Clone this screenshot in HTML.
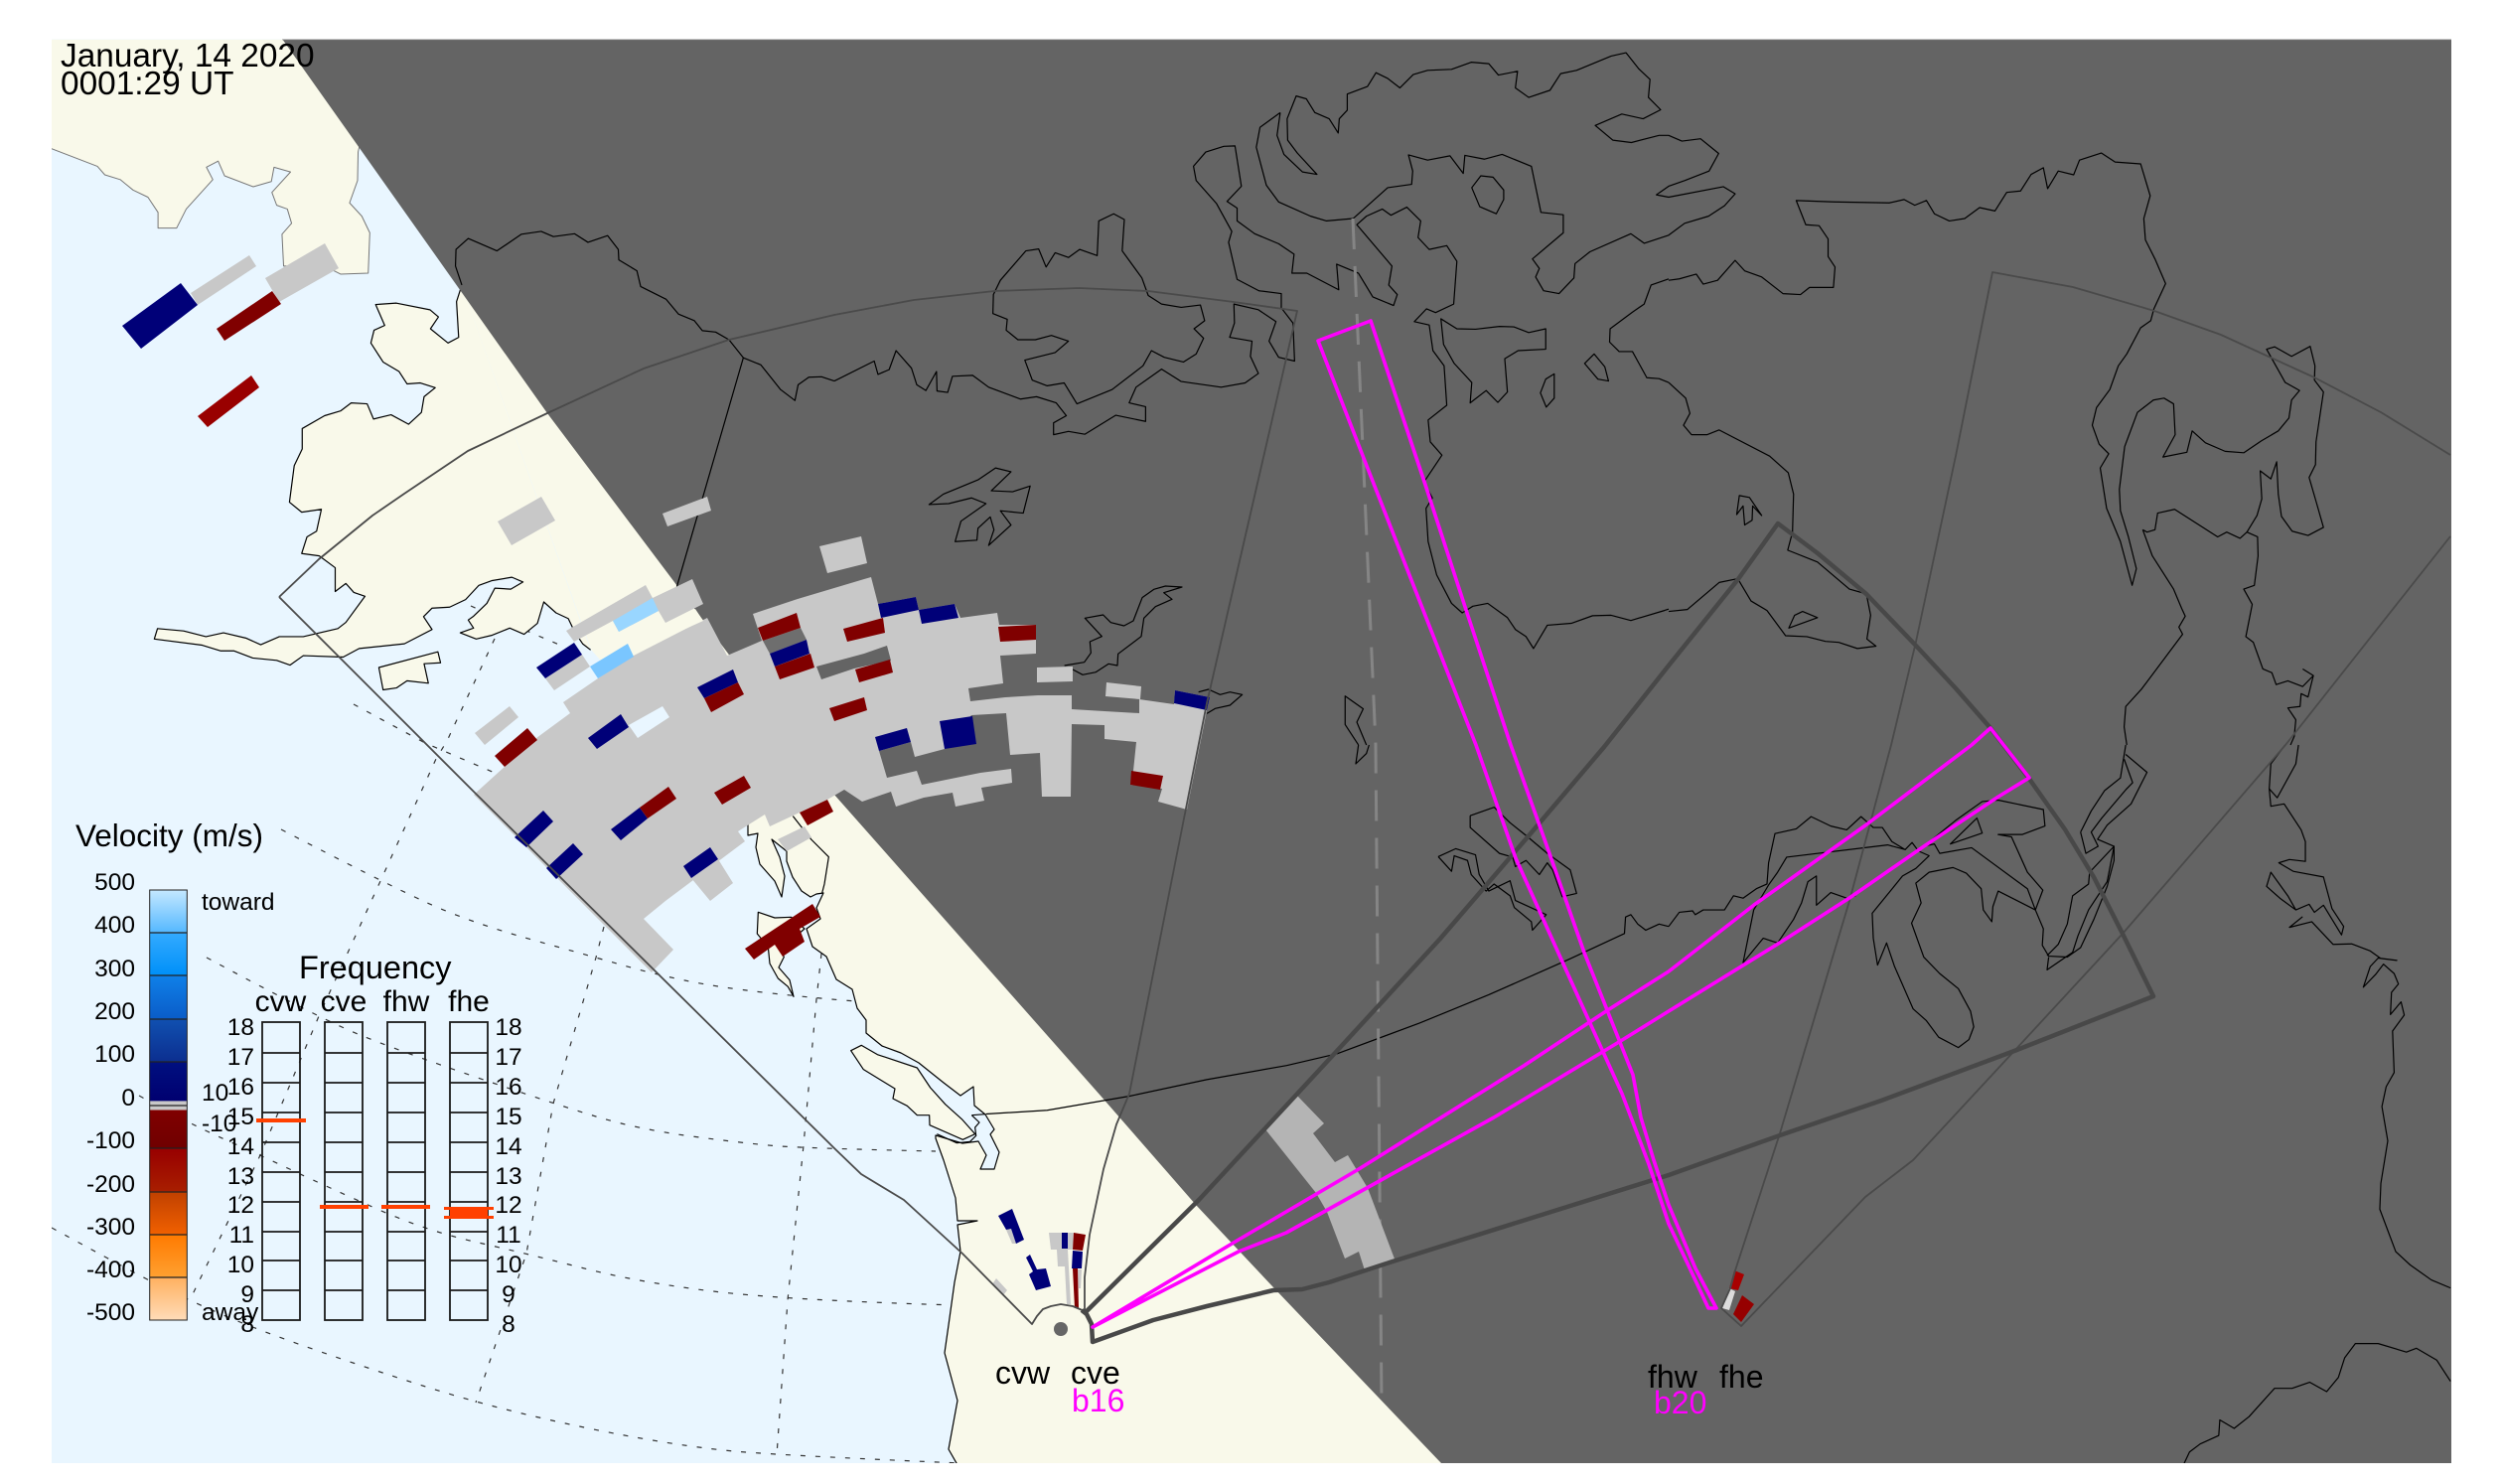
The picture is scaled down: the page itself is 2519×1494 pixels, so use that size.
<!DOCTYPE html>
<html><head><meta charset="utf-8"><style>
html,body{margin:0;padding:0;background:#fff}
svg{display:block}
polyline,polygon,path{vector-effect:non-scaling-stroke;stroke-linejoin:round}
.k polyline,.k polygon{fill:none;stroke:#000;stroke-width:1.2}
.g polygon{fill:#c8c8c8}.n polygon{fill:#000078}.m polygon{fill:#800000}
text{font-family:"Liberation Sans",sans-serif;fill:#000}
</style></head><body>
<svg width="2519" height="1494" viewBox="0 0 2519 1494" xmlns="http://www.w3.org/2000/svg">
<defs>
<clipPath id="f"><rect x="52" y="39.5" width="2416" height="1433.5"/></clipPath>
<linearGradient id="cb" x1="0" y1="0" x2="0" y2="1">
<stop offset="0" stop-color="#c4e8ff"/><stop offset=".099" stop-color="#55b8ff"/><stop offset=".1" stop-color="#33aaff"/><stop offset=".198" stop-color="#0090f8"/><stop offset=".2" stop-color="#0f80e8"/><stop offset=".3" stop-color="#0a5cc8"/><stop offset=".301" stop-color="#1050b0"/><stop offset=".398" stop-color="#0c2f90"/><stop offset=".4" stop-color="#001080"/><stop offset=".49" stop-color="#000070"/><stop offset=".491" stop-color="#c8c8c8"/><stop offset=".511" stop-color="#c8c8c8"/><stop offset=".512" stop-color="#800000"/><stop offset=".6" stop-color="#700000"/><stop offset=".602" stop-color="#980000"/><stop offset=".7" stop-color="#a81e00"/><stop offset=".701" stop-color="#c04000"/><stop offset=".8" stop-color="#f06000"/><stop offset=".801" stop-color="#ff7a00"/><stop offset=".9" stop-color="#ffa030"/><stop offset=".901" stop-color="#ffb060"/><stop offset="1" stop-color="#ffdcb8"/>
</linearGradient>
</defs>
<rect width="2519" height="1494" fill="#fff"/>
<g clip-path="url(#f)">
<rect x="52" y="39" width="2416" height="1434" fill="#e9f6ff"/>
<!-- grid -->
<g fill="none" stroke="#333" stroke-width="1.2" stroke-dasharray="5 10">
<path d="M283 835Q383 887 427 907.5Q471 928 535.5 946Q600 964 628 972Q656 980 689.5 987Q723 994 772.5 999.5Q822 1005 862 1008"/>
<path d="M208 964Q321 1025 361.5 1041.5Q402 1058 479.5 1084.5Q557 1111 600 1124Q643 1137 696.5 1144Q750 1151 779.5 1153.5Q809 1156 942 1159"/>
<path d="M140 1103Q188 1130 225 1146.5Q262 1163 297 1179.5Q332 1196 380.5 1217.5Q429 1239 479.5 1250.5Q530 1262 586.5 1276.5Q643 1291 718 1300Q793 1309 963 1314"/>
<path d="M52 1236Q134 1281 161 1294.5Q188 1308 222.5 1323Q257 1338 316 1358.5Q375 1379 427 1395.5Q479 1412 534 1425Q589 1438 642.5 1447.5Q696 1457 739 1461Q782 1465 967 1473"/>
<polyline points="498,643 450,746 439,764 383,887 321,1023 262,1163 193,1305"/>
<polyline points="608,933 600,964 557,1111 530,1262 479,1412"/>
<polyline points="827,960 822,1006 809,1153 793,1309 782,1465"/>
<polyline points="356,709 428,748 498,778"/>
<polyline points="474,610 537,638 570,652"/>
</g>
<!-- land -->
<g fill="#f9f9ea" stroke="#000" stroke-width="1.2">
<polygon stroke="none" points="465,287 595,654 753,830 1500,830 1500,287"/>
<g transform="scale(.5357,.4783)">
<polyline stroke="#777" stroke-width="1" points="90,83 90,313 97,313 183,350 197,368 226,378 250,400 278,415 297,447 297,480 332,480 350,440 400,378 388,352 410,339 422,370 476,393 510,382 515,352 546,362 511,405 520,432 540,440 548,470 530,493 533,560 610,560 640,577 692,575 695,490 680,455 657,427 672,380 673,320 720,83"/>
<polyline points="868,600 858,635 862,710 842,722 809,692 824,667 808,652 745,638 706,641 723,685 703,695 697,722 720,762 750,782 765,808 790,806 818,816 797,835 792,868 768,893 735,873 702,882 690,850 660,848 640,865 610,875 568,902 568,945 553,980 544,1057 567,1078 604,1072 595,1118 577,1130 567,1165 600,1170 630,1195 630,1245 650,1228 665,1247 686,1255 650,1310 635,1323 570,1340 525,1340 490,1357 462,1343 420,1332 387,1340 345,1328 296,1323 290,1345 380,1358 415,1370 440,1370 475,1385 520,1390 545,1400 570,1380 645,1383 675,1365 760,1355 812,1325 796,1298 812,1280 845,1278 875,1262 900,1232 925,1222 962,1215 983,1225 960,1240 930,1238 915,1270 890,1297 880,1305 890,1322 865,1332 895,1345 925,1337 958,1322 985,1335 1010,1312 1022,1267 1045,1290 1068,1302 1080,1330 1095,1355 1110,1368"/>
<polygon points="712,1405 823,1372 828,1395 797,1397 805,1438 765,1433 745,1448 720,1452"/>
</g>
<polyline points="753,830 753,841 763,839 761,853 765,870 780,887 787,903 790,882 785,863 777,845 792,857 792,867 798,883 807,897 816,903 822,900 829,899 822,914 826,925 812,935 818,953 832,963 842,986 858,996 863,1015 872,1027 872,1040 888,1053 907,1060 925,1070 950,1090 967,1103 980,1094 981,1113 992,1122 1001,1137 997,1142 1006,1160 1001,1177 987,1177 993,1163 985,1149 969,1151 942,1143 942,1146 950,1168 962,1206 964,1229 984,1229 964,1233 967,1260 961,1291 955,1334 951,1362 964,1410 955,1459 967,1480 1500,1480 1500,830"/>
<g transform="translate(730,820) scale(.33333)">
<polygon points="100,295 97,360 130,400 135,450 160,495 190,520 207,550 195,500 162,462 178,430 165,410 240,345 200,310 150,312"/>
<polygon points="380,713 412,697 460,725 580,765 620,825 665,875 715,920 755,965 718,982 618,938 617,908 580,908 550,880 507,858 513,828 418,770"/>
<polyline fill="none" points="205,5 260,75 313,128 300,210 293,237"/>
<polyline fill="none" points="745,908 768,930 755,945 758,970 740,988 700,992 640,965"/>
<polyline fill="none" points="745,908 785,905"/>
</g>
</g>
<!-- terminator -->
<polygon fill="#646464" points="284,39 551,416 840,800 1108,1103 1204,1213 1282,1296 1451,1473 2468,1473 2468,39"/>
<line x1="284" y1="39.8" x2="2468" y2="39.8" stroke="#8a8a8a" stroke-width="1"/>
<!-- coasts on dark -->
<g class="k">
<g transform="scale(.5357,.4783)">
<polyline points="868,600 856,560 857,525 880,502 934,528 980,493 1017,487 1040,498 1080,492 1105,510 1142,496 1162,525 1163,547 1197,570 1204,603 1252,630 1275,661 1305,675 1320,696 1345,699 1370,715 1397,753 1430,768 1467,820 1494,843 1500,810 1520,794 1544,793 1568,802"/>
<polyline points="1397,753 1272,1235"/>
</g>
<g transform="translate(840,0) scale(.5357,.4783)">
<polyline points="0,802 75,760 82,788 103,778 116,738 145,775 155,810 172,822 192,782 193,823 213,826 222,792 260,790 290,815 350,840 380,835 417,848 436,875 412,890 412,915 440,908 471,914 529,874 585,887 585,856 554,848 567,815 615,777 652,803 727,815 772,806 797,786 782,750 785,718 743,710 752,680 751,640 797,652 830,677 817,718 835,752 865,760 862,680 840,648 840,618 798,612 757,588 741,510 747,487 718,428 680,380 675,350 698,320 732,308 753,307 765,392 738,424 757,438 757,465 790,492 835,513 864,535 860,575 888,575 948,610 944,556 985,575 1012,625 1051,643 1058,620 1042,600 1048,560 982,473 1000,455 1030,440 1046,453 1076,436 1102,465 1097,500 1118,525 1151,517 1170,550 1164,640 1130,658 1113,650 1090,677 1118,684 1125,738 1146,770 1151,853 1116,884 1120,930 1142,958 1108,1015 1124,1048 1112,1070 1116,1140 1132,1210 1160,1270 1180,1290 1200,1276 1228,1270 1265,1300 1280,1325 1300,1340 1314,1365 1340,1316 1385,1312 1425,1296 1460,1295 1497,1306 1560,1285 1568,1282"/>
<polygon points="312,590 360,528 384,524 398,562 415,532 440,542 461,525 494,538 497,465 525,450 545,462 541,528 578,585 590,622 615,640 652,647 688,642 696,675 676,692 694,712 680,745 656,762 620,752 596,738 580,770 522,820 456,850 432,806 400,812 372,800 358,758 415,742 440,718 408,706 378,715 345,715 323,695 325,672 298,660 299,620"/>
<polyline points="838,237 800,268 793,310 812,390 835,425 895,455 925,465 975,460 1040,395 1085,388 1087,360 1079,326 1115,337 1157,328 1182,365 1185,327 1222,335 1255,325 1310,350 1328,447 1370,452 1370,490 1312,545 1325,565 1318,583 1333,612 1362,618 1390,585 1392,555 1420,530 1497,492 1522,512 1568,495 1598,470 1643,455 1673,433 1693,408 1671,393 1568,415 1545,410 1568,392 1598,380 1644,360 1662,323 1628,292 1593,297 1568,285 1550,285 1498,300 1463,295 1430,264 1480,240 1520,250 1553,231 1530,205 1533,167 1512,145 1488,111 1460,118 1395,148 1365,155 1345,190 1305,205 1280,185 1284,150 1248,158 1230,134 1197,131 1160,146 1115,148 1088,157 1063,185 1040,165 1018,153 1002,182 964,198 964,232 949,250 947,280 930,250 903,237 887,208 868,202 851,250 852,295 870,322 907,367 880,362 845,325 832,285 838,237"/>
<polygon points="1198,395 1215,370 1238,373 1258,400 1258,420 1244,450 1213,435"/>
<polygon points="1410,765 1428,745 1448,772 1455,802 1435,798"/>
<polygon points="1327,827 1337,798 1353,787 1353,838 1338,857"/>
<polygon points="1140,671 1170,692 1205,693 1250,687 1277,688 1305,700 1337,692 1337,735 1285,738 1260,755 1265,825 1247,847 1225,822 1195,848 1198,805 1165,765 1145,725"/>
<polyline points="1568,587 1535,600 1522,640 1500,657 1458,692 1457,720 1475,740 1500,740 1527,795 1550,797 1568,805"/>
<polygon points="178,1062 205,1040 270,1010 303,985 332,993 295,1033 335,1035 368,1023 355,1080 312,1075 332,1105 290,1148 300,1115 293,1088 270,1112 268,1137 227,1140 238,1097 285,1060 258,1048 215,1060"/>
<polyline points="985,1568 960,1525 960,1465 994,1492 982,1520 1000,1568"/>
</g>
<g transform="translate(1680,0) scale(.5351,.4783)">
<polyline points="0,590 20,587 52,577 65,598 92,590 125,548 143,570 175,583 215,618 248,620 265,605 310,605 313,562 300,540 300,503 283,475 258,473 240,422 310,425 415,427 443,420 463,432 485,422 500,450 528,465 557,460 585,437 614,444 636,405 662,402 682,367 705,353 713,397 733,360 762,368 773,337 814,322 840,341 888,345 906,412 894,460 897,505 915,545 935,597 913,650 907,675 888,690 862,745 846,770 830,820 805,858 797,895 810,935 828,955 812,985 824,1070 850,1140 872,1232 880,1197 865,1130 850,1075 848,1030 858,940 882,868 912,842 932,838 950,850 953,915 930,962 975,952 985,907 1010,932 1047,950 1082,953 1115,928 1147,907 1167,880 1172,842 1187,822 1160,805 1125,735 1140,730 1172,750 1207,729 1216,770 1215,800 1232,825 1218,930 1217,978 1205,1005 1218,1055 1232,1110 1203,1127 1173,1118 1153,1087 1147,1040 1144,972 1133,1008 1113,991 1116,1050 1107,1085 1088,1120 1108,1130 1109,1170 1102,1232 1082,1240 1098,1272 1086,1340 1100,1352 1118,1408 1135,1416 1143,1441 1165,1433 1193,1445 1213,1422 1193,1408"/>
<polyline points="1213,1422 1203,1467 1190,1460 1188,1487 1165,1490 1180,1515 1177,1550 1170,1568"/>
<polyline points="0,805 32,838 40,870 28,895 43,915 72,915 95,905 190,960 225,995 235,1040 233,1120 224,1158 280,1183 340,1240 372,1250 380,1295 373,1345 390,1360 355,1365 320,1352 295,1350 260,1340 220,1338 185,1285 155,1265 130,1218 95,1226 35,1283 0,1287"/>
<polyline points="892,1115 900,1120 915,1115 920,1080 952,1072 1033,1130 1050,1120 1075,1133 1088,1120"/>
<polyline points="892,1115 910,1170 930,1205 950,1240 965,1280 972,1297 960,1320 967,1335 890,1450 860,1487 857,1530 862,1568"/>
<polygon points="133,1043 152,1047 175,1085 158,1065 157,1095 143,1105 140,1065 128,1083"/>
<polygon points="226,1322 237,1295 252,1287 280,1300"/>
</g>
<g transform="translate(840,750) scale(.5357,.4745)">
<polyline points="285,783 400,775 555,745 700,710 850,680 945,655 1100,590 1230,530 1380,455 1485,400 1487,365 1497,360 1510,380 1525,393 1550,380 1568,385"/>
<polyline points="1135,237 1168,220 1205,233 1212,275 1230,310 1270,288 1280,330 1338,360 1312,393 1310,375 1278,345 1270,320 1240,295 1225,310 1197,275 1190,245 1165,235 1160,268 1135,237"/>
<polyline points="1195,150 1195,175 1250,230 1275,238 1280,258 1300,245 1325,275 1340,250 1350,265 1368,322 1395,315 1383,265 1340,230 1300,192 1270,165 1240,132 1195,150"/>
<polyline points="1005,0 1000,18 980,40 985,0"/>
</g>
<g transform="translate(1680,750) scale(.5351,.4745)">
<polyline points="1185,0 1180,40 1145,112 1130,93 1133,40 1160,0"/>
<polyline points="1130,93 1133,130 1158,125 1190,180 1198,205 1198,247 1168,243 1148,250 1175,268 1232,280 1248,347 1270,385 1266,403 1232,340 1215,355 1205,338 1180,350 1150,325 1125,300 1133,270 1165,320 1180,350"/>
<polyline points="1168,387 1192,365 1168,387 1210,375 1250,423 1285,422 1320,437 1340,453 1370,457 1335,452 1320,470 1307,514 1330,487 1345,465 1365,485 1373,507 1360,525 1358,572 1378,545 1384,573 1362,607 1365,695 1350,725 1342,767 1353,840 1340,930 1338,985 1368,1075 1395,1103 1435,1135 1471,1152"/>
<polyline points="1471,1350 1445,1305 1407,1280 1388,1288 1335,1270 1292,1270 1272,1300 1260,1342 1238,1372 1206,1352 1173,1365 1140,1365 1092,1425 1064,1450 1037,1432 1035,1465 1000,1483 980,1500 970,1524"/>
<polyline points="0,385 20,355 45,352 50,360 65,350 105,350 122,320 140,325 165,305 185,295 188,250 200,188 240,178 268,152 305,172 335,180 362,152 385,175 402,175 420,205 445,222 412,212 222,238 205,270 188,297 160,350 140,462 178,410 205,420 235,370 250,335 262,290 278,278 278,340 305,313 335,325 352,320"/>
<polyline points="445,222 458,207 470,225 490,235 465,262 440,278 383,357 385,410 393,467 410,420 425,470 460,560 485,585 508,620 545,642 565,625 574,598 568,565 545,517 510,485 480,450 457,378 475,335 465,293 490,270 535,260 560,272 588,305 592,350 608,375 610,343 620,310 690,350 705,390 703,425 715,448 750,450 775,430 800,370 825,300 838,245 838,215 792,270 790,295 760,320 750,380 733,423 712,447"/>
<polyline points="480,215 500,210 510,230 570,218 675,305 690,350 704,308 675,270 645,195 620,190 665,190 708,172 705,137 620,117 590,120 540,160 480,215"/>
<polygon points="530,210 580,155 590,187"/>
<polyline points="775,185 795,140 820,97 850,70 860,0"/>
<polyline points="860,20 900,58 870,125 825,170 807,200 838,215"/>
<polyline points="775,185 785,230 808,215 795,185 815,155 860,95 873,80 857,30"/>
<polyline points="838,215 825,290 790,350 770,405 760,440 712,477 715,450"/>
</g>
<g transform="translate(860,570) scale(.33333)">
<polyline points="635,300 695,290 715,262 712,228 748,212 697,157 752,147 775,170 815,180 843,165 870,95 905,70 940,60 990,63 935,80 960,100 910,122 875,157 867,212 797,265 795,300 768,295 730,320 690,328 660,312"/>
<polyline points="1040,380 1070,372 1105,388 1135,380 1172,388 1135,420 1090,430 1065,445"/>
</g>
</g>
<!-- dashed meridian -->
<polyline fill="none" stroke="#858585" stroke-width="3" stroke-dasharray="31 17" points="1362,220 1385,750 1391,1414"/>
<!-- scatter -->
<g class="g">
<polygon points="477,800 540,743 574,718 567,707 602,683 638,660 712,622 732,660 767,645 758,618 803,603 870,583 877,581 884,608 922,601 925,614 961,608 967,622 1004,617 1006,629 1043,629 1043,658 1007,660 1010,688 975,693 977,706 1012,702 1045,700 1079,700 1079,714 1112,716 1147,718 1147,704 1182,709 1183,695 1218,702 1215,715 1195,815 1166,807 1170,794 1138,790 1141,776 1144,747 1112,744 1112,730 1079,729 1078,802 1049,802 1047,758 1017,760 1013,718 978,720 951,754 921,762 917,747 885,756 893,783 923,776 928,790 987,778 1018,774 1019,788 988,793 991,806 962,812 959,798 930,803 902,812 897,797 868,807 850,795 833,805 805,818 775,832 770,820 743,837 750,847 670,907 648,925 678,956 656,979"/>
<polygon points="570,635 650,589 657,602 697,583 708,608 670,627 663,615 623,636 617,625 578,646"/>
<polygon points="549,683 586,659 594,671 558,695"/>
<polygon points="478,738 513,711 522,722 488,750"/>
<polygon points="825,550 867,540 873,567 833,577"/>
<polygon points="667,517 712,500 716,514 672,530"/>
<polygon points="501,525 545,500 559,524 515,549"/>
<polygon points="192,295 251,257 258,268 199,307"/>
<polygon points="267,280 327,245 341,270 281,304"/>
<polygon points="696,884 723,865 738,889 715,907"/>
<polygon points="783,845 810,832 817,843 792,857"/>
<polygon points="1044,672 1080,671 1080,686 1044,687"/>
<polygon points="1114,687 1149,691 1148,704 1113,701"/>
<polygon points="1056,1241 1081,1241 1080,1258 1075,1258 1078,1313 1074,1313 1072,1275 1065,1275 1064,1258 1058,1258"/>
<polygon points="1085,1278 1089,1278 1088,1297 1086,1297"/>
<polygon points="999,1293 1003,1287 1014,1299 1010,1304"/>
<polygon points="1013,1238 1018,1237 1023,1252 1019,1252"/>
</g>
<polygon fill="#6e6e6e" points="768,645 806,632 812,644 775,658"/>
<polygon fill="#646464" points="822,671 870,658 893,650 897,665 860,673 827,684"/>
<polygon fill="#e9f6ff" points="633,730 667,711 674,722 642,743"/>
<polygon fill="#f9f9ea" points="670,628 700,613 708,625 677,639"/>
<polygon fill="#99d6ff" points="617,625 657,602 663,615 623,636"/>
<polygon fill="#7ac6ff" points="594,671 632,648 638,661 602,683"/>
<polygon fill="#b4b4b4" points="1274,1137 1306,1103 1333,1131 1322,1141 1344,1170 1357,1163 1377,1196 1405,1270 1374,1279 1368,1260 1354,1267 1336,1220 1325,1201"/>
<g class="n">
<polygon points="123,328 182,285 199,307 142,351"/>
<polygon points="540,672 578,647 586,659 549,683"/>
<polygon points="592,743 625,719 633,732 601,754"/>
<polygon points="775,658 812,644 815,658 780,671"/>
<polygon points="702,692 738,674 743,687 709,703"/>
<polygon points="884,608 922,601 925,614 887,622"/>
<polygon points="925,614 961,608 965,622 928,628"/>
<polygon points="1183,695 1218,702 1215,715 1182,708"/>
<polygon points="946,726 979,721 983,749 951,754"/>
<polygon points="881,742 913,733 917,747 885,756"/>
<polygon points="518,843 547,816 557,827 530,853"/>
<polygon points="550,874 577,849 587,860 560,885"/>
<polygon points="615,835 644,813 652,824 625,846"/>
<polygon points="688,872 715,853 723,865 696,884"/>
<polygon points="1005,1224 1019,1217 1031,1248 1023,1252 1018,1237 1013,1238"/>
<polygon points="1033,1266 1037,1263 1044,1278 1053,1277 1058,1295 1043,1299 1036,1283 1040,1280"/>
<polygon points="1069,1241 1075,1241 1075,1257 1069,1257"/>
<polygon points="1080,1259 1090,1260 1089,1277 1079,1277"/>
</g>
<g class="m">
<polygon points="218,331 274,293 283,306 226,343"/>
<polygon style="fill:#990000" points="199,419 253,378 261,390 209,430"/>
<polygon points="498,761 531,733 541,745 508,772"/>
<polygon points="763,632 802,617 806,632 768,645"/>
<polygon points="780,671 816,658 820,672 785,684"/>
<polygon points="709,703 743,687 749,699 716,717"/>
<polygon points="849,633 889,622 891,637 853,646"/>
<polygon points="835,713 870,702 873,715 840,726"/>
<polygon points="861,674 896,664 899,677 865,687"/>
<polygon points="1005,631 1043,629 1043,644 1007,646"/>
<polygon points="1139,776 1171,781 1168,795 1138,790"/>
<polygon points="644,813 673,792 681,804 652,824"/>
<polygon points="719,798 749,781 756,793 727,810"/>
<polygon points="805,818 833,805 839,817 813,831"/>
<polygon points="750,955 818,910 826,923 805,935 810,948 788,963 780,951 759,966"/>
<polygon points="1081,1241 1093,1243 1090,1259 1080,1258"/>
<polygon points="1080,1277 1085,1277 1086,1317 1082,1317"/>
</g>
<polygon fill="#a80000" points="1746,1279 1756,1283 1750,1299 1741,1297"/>
<polygon fill="#dcdcdc" points="1741,1297 1747,1300 1741,1319 1734,1317"/>
<polygon fill="#960000" points="1754,1304 1766,1313 1753,1331 1745,1323"/>
<!-- FOVs -->
<g fill="none" stroke="#4a4a4a" stroke-width="1.8">
<polyline points="281,601 321,563 375,519 407,497 471,454 551,416 648,371 734,342 840,317 920,302 1001,293 1086,290 1156,293 1242,304 1306,313 1215,708 1194,814 1137,1101 1124,1132 1111,1177 1097,1243 1092,1286 1092,1320 1080,1315 1068,1313 1058,1315 1050,1318 1044,1325 1039,1333 969,1262 910,1208 867,1182 840,1156 477,797 281,601"/>
<polyline points="2467,458 2397,415 2330,380 2236,337 2169,313 2087,289 2006,274 1969,459 1929,646 1904,750 1862,907 1792,1141 1747,1279 1742,1297 1733,1317 1753,1335 1878,1205 1926,1168 2028,1058 2137,940 2301,750 2467,540"/>
</g>
<polyline fill="none" stroke="#484848" stroke-width="4.5" stroke-linejoin="miter" points="1092,1322 1207,1208 1346,1058 1450,945 1536,845 1615,752 1680,670 1750,583 1790,527 1830,557 1879,598 1929,650 1969,693 2004,733 2043,784 2079,835 2108,883 2137,940 2168,1003 2028,1058 1894,1108 1792,1143 1680,1183 1402,1270 1338,1291 1311,1298 1282,1299 1215,1315 1161,1329 1100,1351 1099,1333 1094,1323 1089,1319"/>
<g fill="none" stroke="#ff00ff" stroke-width="3.6">
<polygon points="1100,1336 1242,1251 1368,1177 1534,1073 1617,1018 1680,978 1766,911 1878,831 1985,750 2004,733 2043,783 2012,802 1937,852 1862,904 1792,949 1680,1018 1630,1049 1504,1125 1376,1196 1295,1241 1247,1260"/>
<polygon points="1720,1317 1699,1272 1680,1232 1660,1172 1633,1101 1590,1006 1526,864 1486,750 1376,469 1327,343 1380,323 1435,488 1477,617 1521,750 1555,845 1595,959 1644,1082 1652,1125 1665,1168 1680,1213 1707,1277 1728,1317"/>
</g>
<circle cx="1068" cy="1338" r="7" fill="#666"/>
</g>
<!-- colour bar -->
<rect x="150.7" y="896" width="37.6" height="433" fill="url(#cb)" stroke="#222" stroke-width="1"/>
<g stroke="#222" stroke-width="1.2">
<line x1="151" x2="188" y1="939" y2="939"/><line x1="151" x2="188" y1="982" y2="982"/><line x1="151" x2="188" y1="1026" y2="1026"/><line x1="151" x2="188" y1="1069" y2="1069"/><line x1="151" x2="188" y1="1113" y2="1113"/><line x1="151" x2="188" y1="1156" y2="1156"/><line x1="151" x2="188" y1="1200" y2="1200"/><line x1="151" x2="188" y1="1243" y2="1243"/><line x1="151" x2="188" y1="1286" y2="1286"/>
</g>
<!-- frequency panels -->
<g fill="none" stroke="#1a1a1a" stroke-width="1.8">
<rect x="264" y="1029" width="38" height="300"/><rect x="327" y="1029" width="38" height="300"/><rect x="390" y="1029" width="38" height="300"/><rect x="453" y="1029" width="38" height="300"/>
<path d="M264 1060h38M264 1090h38M264 1120h38M264 1150h38M264 1180h38M264 1210h38M264 1240h38M264 1269h38M264 1299h38M327 1060h38M327 1090h38M327 1120h38M327 1150h38M327 1180h38M327 1210h38M327 1240h38M327 1269h38M327 1299h38M390 1060h38M390 1090h38M390 1120h38M390 1150h38M390 1180h38M390 1210h38M390 1240h38M390 1269h38M390 1299h38M453 1060h38M453 1090h38M453 1120h38M453 1150h38M453 1180h38M453 1210h38M453 1240h38M453 1269h38M453 1299h38"/>
</g>
<g fill="#ff4000">
<rect x="258" y="1126" width="50" height="4"/>
<rect x="322" y="1213" width="49" height="4"/>
<rect x="384" y="1213" width="49" height="4"/>
<rect x="447" y="1215" width="50" height="3"/>
<rect x="447" y="1224" width="50" height="3"/>
<rect x="453" y="1216" width="38" height="10"/>
</g>
<!-- text -->
<g font-size="33.4"><text x="61" y="67">January, 14 2020</text><text x="61" y="95">0001:29 UT</text></g>
<text x="76" y="852" font-size="31.5">Velocity (m/s)</text>
<text x="301" y="985" font-size="32.5">Frequency</text>
<g font-size="24.5" text-anchor="end">
<text x="136" y="896">500</text><text x="136" y="939">400</text><text x="136" y="983">300</text><text x="136" y="1026">200</text><text x="136" y="1069">100</text><text x="136" y="1113">0</text><text x="136" y="1156">-100</text><text x="136" y="1200">-200</text><text x="136" y="1243">-300</text><text x="136" y="1286">-400</text><text x="136" y="1329">-500</text>
<text x="256" y="1042">18</text><text x="256" y="1072">17</text><text x="256" y="1102">16</text><text x="256" y="1132">15</text><text x="256" y="1162">14</text><text x="256" y="1192">13</text><text x="256" y="1221">12</text><text x="256" y="1251">11</text><text x="256" y="1281">10</text><text x="256" y="1311">9</text><text x="256" y="1341">8</text>
</g>
<g font-size="24.5" text-anchor="middle">
<text x="512" y="1042">18</text><text x="512" y="1072">17</text><text x="512" y="1102">16</text><text x="512" y="1132">15</text><text x="512" y="1162">14</text><text x="512" y="1192">13</text><text x="512" y="1221">12</text><text x="512" y="1251">11</text><text x="512" y="1281">10</text><text x="512" y="1311">9</text><text x="512" y="1341">8</text>
</g>
<g font-size="24.5"><text x="203" y="916">toward</text><text x="203" y="1329">away</text><text x="203" y="1108">10</text><text x="203" y="1139">-10</text></g>
<g font-size="30" text-anchor="middle"><text x="282.5" y="1018">cvw</text><text x="346" y="1018">cve</text><text x="409" y="1018">fhw</text><text x="472" y="1018">fhe</text></g>
<g font-size="32">
<text x="1002" y="1393">cvw</text><text x="1078" y="1393">cve</text><text x="1079" y="1421" style="fill:#ff00ff">b16</text>
<text x="1659" y="1397">fhw</text><text x="1731" y="1397">fhe</text><text x="1665" y="1423" style="fill:#ff00ff">b20</text>
</g>
</svg>
</body></html>
